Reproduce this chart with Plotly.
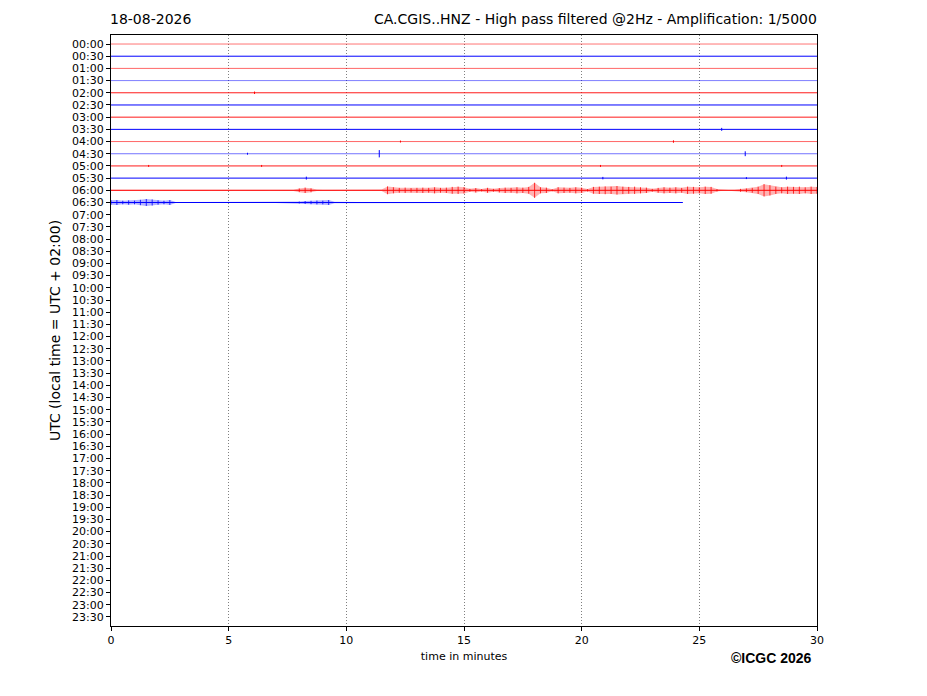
import numpy as np
import plotly.graph_objects as go

# etichette delle righe (una ogni 30 minuti)
row_labels = ["%02d:%02d" % (h, m) for h in range(24) for m in (0, 30)]

# righe registrate: colore, opacita, fine della traccia (minuti)
trace_colors = ["red", "blue"] * 7
trace_alpha = [0.55, 1.0, 0.6, 0.5, 0.9, 1.0, 0.9, 1.0, 0.6, 0.55, 0.9, 1.0, 1.0, 1.0]
trace_end = [30] * 13 + [24.3]

# inviluppo dell'ampiezza (in frazioni di riga), campioni ogni 0.25 min
env_0600 = [0.04, 0.05, 0.04, 0.04, 0.06, 0.04, 0.04, 0.05, 0.04, 0.04, 0.06, 0.04,
            0.04, 0.05, 0.04, 0.04, 0.05, 0.04, 0.04, 0.04, 0.06, 0.04, 0.04, 0.05,
            0.04, 0.04, 0.05, 0.04, 0.04, 0.04, 0.06, 0.05,
            0.15, 0.22, 0.16, 0.06, 0.04, 0.04, 0.05, 0.04, 0.04, 0.04, 0.05, 0.04,
            0.04, 0.05, 0.06,
            0.32, 0.25, 0.2, 0.22, 0.18, 0.2, 0.22, 0.2, 0.25, 0.2, 0.22, 0.28,
            0.3, 0.26, 0.12, 0.18, 0.1,
            0.2, 0.12, 0.18, 0.22, 0.2, 0.25, 0.22, 0.28, 0.62, 0.25, 0.22, 0.08,
            0.25, 0.22, 0.2, 0.25,
            0.22, 0.1, 0.28, 0.3, 0.32, 0.3, 0.35, 0.3, 0.28, 0.3, 0.25, 0.22,
            0.12, 0.2, 0.25, 0.22,
            0.25, 0.2, 0.3, 0.28, 0.25, 0.3, 0.28, 0.1, 0.04, 0.04, 0.05, 0.12,
            0.15, 0.2, 0.3, 0.5,
            0.42, 0.3, 0.25, 0.3, 0.28, 0.3, 0.25, 0.3, 0.28]
env_0630 = ([0.18, 0.2, 0.15, 0.18, 0.15, 0.22, 0.28, 0.25, 0.18, 0.15, 0.2, 0.05]
            + [0.04, 0.04, 0.05, 0.04, 0.04, 0.04, 0.05, 0.04, 0.04, 0.04,
               0.05, 0.04, 0.04, 0.04, 0.05, 0.04, 0.04, 0.04, 0.05, 0.04]
            + [0.08, 0.12, 0.14, 0.16, 0.15, 0.2, 0.06, 0.04]
            + [0.04] * 20 + [0.025] * 38)
envelopes = {12: env_0600, 13: env_0630}

# picchi isolati: (riga, minuto, ampiezza)
spikes = [(4, 6.1, 0.1), (7, 25.95, 0.12), (8, 12.3, 0.08), (8, 23.9, 0.1),
          (9, 5.8, 0.08), (9, 11.4, 0.3), (9, 26.95, 0.2),
          (10, 1.6, 0.08), (10, 6.4, 0.08), (10, 20.8, 0.08), (10, 28.5, 0.08),
          (11, 8.3, 0.12), (11, 20.9, 0.1), (11, 27.0, 0.08), (11, 28.7, 0.12)]

rgb = {"red": "255,0,0", "blue": "0,0,255"}

fig = go.Figure()

# inviluppi delle righe con segnale: fondo leggero + tratti verticali
for r, env in envelopes.items():
    t = np.arange(len(env)) * 0.25
    a = np.array(env)
    xs = np.concatenate([t, t[::-1]])
    ys = np.concatenate([r - a, (r + a)[::-1]])
    fig.add_trace(go.Scatter(x=xs, y=ys, fill="toself", mode="lines", line=dict(width=0),
                             fillcolor="rgba(%s,0.3)" % rgb[trace_colors[r]],
                             hoverinfo="skip", showlegend=False))
    vx, vy = [], []
    for ti, ai in zip(t, a):
        if ai > 0.06:
            vx += [ti, ti, None]
            vy += [r - ai, r + ai, None]
    fig.add_trace(go.Scatter(x=vx, y=vy, mode="lines",
                             line=dict(color="rgba(%s,0.8)" % rgb[trace_colors[r]], width=1),
                             hoverinfo="skip", showlegend=False))

# linee base
for r in range(len(trace_colors)):
    fig.add_trace(go.Scatter(x=[0, trace_end[r]], y=[r, r], mode="lines",
                             line=dict(color="rgba(%s,%s)" % (rgb[trace_colors[r]], trace_alpha[r]), width=1),
                             hoverinfo="skip", showlegend=False))

# picchi
for col in ("red", "blue"):
    sx, sy = [], []
    for r, m, a in spikes:
        if trace_colors[r] == col:
            sx += [m, m, None]
            sy += [r - a, r + a, None]
    fig.add_trace(go.Scatter(x=sx, y=sy, mode="lines", line=dict(color=col, width=1),
                             hoverinfo="skip", showlegend=False))

fig.update_layout(
    width=927, height=696,
    margin=dict(l=103, r=118, t=27, b=78),
    plot_bgcolor="white", paper_bgcolor="white",
    font=dict(family="DejaVu Sans", color="black", size=11),
)

fig.update_xaxes(range=[0, 30], tickvals=[0, 5, 10, 15, 20, 25, 30],
                 showgrid=True, gridcolor="rgba(0,0,0,0.5)", gridwidth=0.5, griddash="1px,2px",
                 showline=True, mirror=True, linecolor="black", linewidth=1,
                 ticks="outside", ticklen=4, tickcolor="black", zeroline=False,
                 title=dict(text="time in minutes", font=dict(size=11), standoff=6))
fig.update_yaxes(range=[47.74, -0.74], tickvals=list(range(48)), ticktext=row_labels,
                 showgrid=False, zeroline=False,
                 showline=True, mirror=True, linecolor="black", linewidth=1,
                 ticks="outside", ticklen=4, tickcolor="black",
                 title=dict(text="UTC (local time = UTC + 02:00)", font=dict(size=14), standoff=8))

fig.add_annotation(text="18-08-2026", xref="paper", yref="paper", x=0, y=1,
                   xanchor="left", yanchor="bottom", xshift=-3, yshift=6,
                   showarrow=False, font=dict(size=14))
fig.add_annotation(text="CA.CGIS..HNZ - High pass filtered @2Hz - Amplification: 1/5000",
                   xref="paper", yref="paper", x=1, y=1, xanchor="right", yanchor="bottom",
                   xshift=2, yshift=6, showarrow=False, font=dict(size=14))
fig.add_annotation(text="<b>©ICGC 2026</b>", xref="paper", yref="paper", x=1, y=0,
                   xanchor="right", yanchor="middle", xshift=-3, yshift=-32,
                   showarrow=False, font=dict(family="Liberation Sans", size=14))

fig.write_html("out.html")
